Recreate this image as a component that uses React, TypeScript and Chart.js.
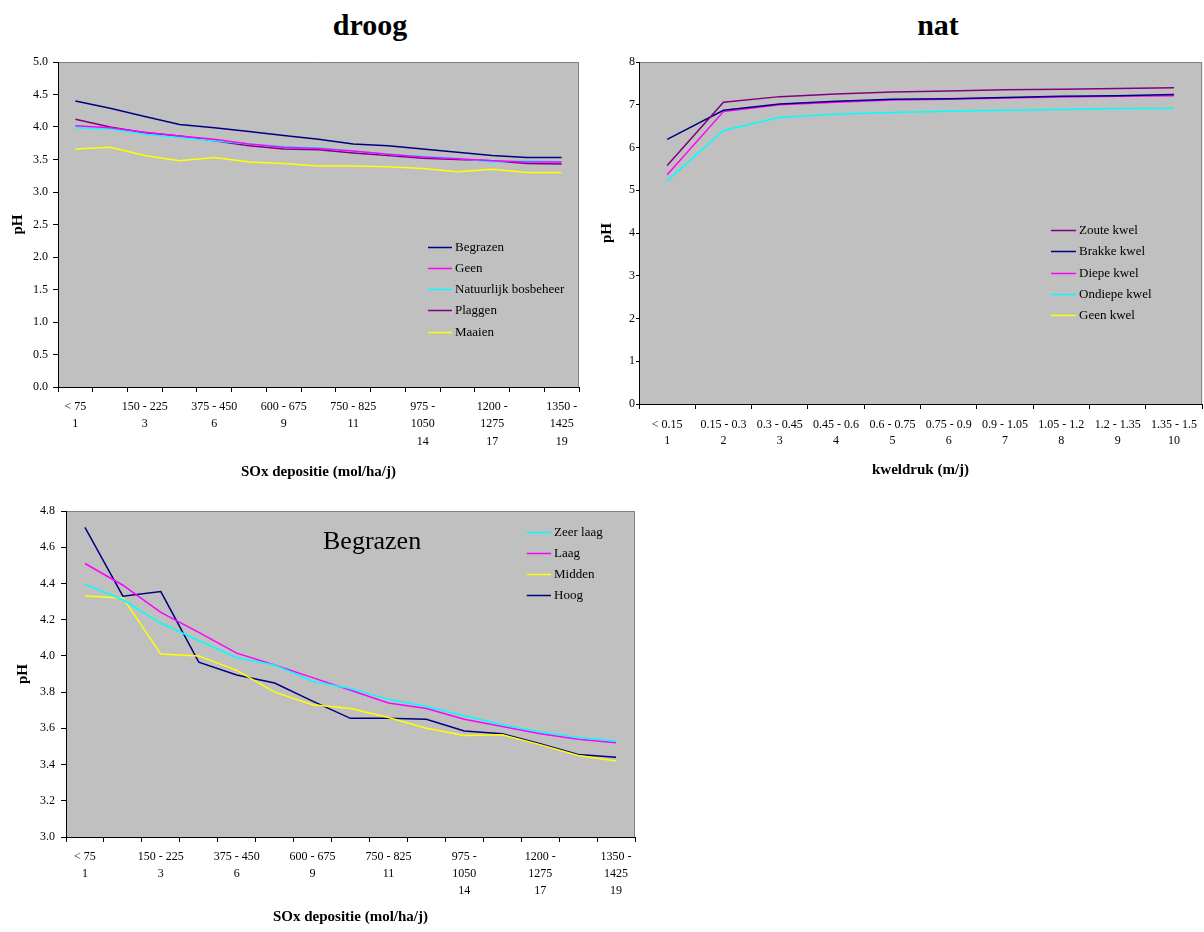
import React, { useEffect, useRef } from 'react';
import { Chart, registerables } from 'chart.js';

Chart.register(...registerables);

const FONT = "'Liberation Serif', 'Times New Roman', serif";

// ---------- categories ----------
const soxRanges = ['< 75', '75 - 150', '150 - 225', '300 - 375', '375 - 450', '450 - 525', '600 - 675', '675 - 750', '750 - 825', '900 - 975', '975 - 1050', '1050 - 1125', '1200 - 1275', '1275 - 1350', '1350 - 1425'];
const soxClasses = [1, 2, 3, 5, 6, 7, 9, 10, 11, 13, 14, 15, 17, 18, 19];
const kwelRanges = ['< 0.15', '0.15 - 0.3', '0.3 - 0.45', '0.45 - 0.6', '0.6 - 0.75', '0.75 - 0.9', '0.9 - 1.05', '1.05 - 1.2', '1.2 - 1.35', '1.35 - 1.5'];
const kwelClasses = [1, 2, 3, 4, 5, 6, 7, 8, 9, 10];

// ---------- droog ----------
const droogNames = ['Begrazen', 'Geen', 'Natuurlijk bosbeheer', 'Plaggen', 'Maaien'];
const droogBegrazen = [4.40, 4.29, 4.16, 4.04, 3.99, 3.93, 3.87, 3.81, 3.74, 3.71, 3.66, 3.61, 3.56, 3.53, 3.53];
const droogGeen = [4.02, 3.99, 3.92, 3.86, 3.81, 3.74, 3.69, 3.67, 3.63, 3.58, 3.54, 3.51, 3.48, 3.46, 3.46];
const droogNatuurlijk = [3.99, 3.97, 3.89, 3.84, 3.79, 3.74, 3.70, 3.68, 3.63, 3.58, 3.55, 3.52, 3.46, 3.48, 3.46];
const droogPlaggen = [4.12, 4.00, 3.91, 3.86, 3.79, 3.71, 3.66, 3.65, 3.60, 3.56, 3.52, 3.50, 3.48, 3.44, 3.43];
const droogMaaien = [3.66, 3.69, 3.56, 3.48, 3.53, 3.46, 3.44, 3.40, 3.40, 3.39, 3.36, 3.31, 3.35, 3.30, 3.30];
const droogColors = ['#000080', '#FF00FF', '#00FFFF', '#800080', '#FFFF00'];

// ---------- nat ----------
const natNames = ['Zoute kwel', 'Brakke kwel', 'Diepe kwel', 'Ondiepe kwel', 'Geen kwel'];
const natZoute = [5.58, 7.06, 7.19, 7.25, 7.30, 7.32, 7.35, 7.36, 7.38, 7.40];
const natBrakke = [6.19, 6.87, 7.02, 7.08, 7.13, 7.14, 7.17, 7.20, 7.21, 7.24];
const natDiepe = [5.36, 6.84, 7.00, 7.06, 7.11, 7.13, 7.16, 7.18, 7.20, 7.21];
const natOndiepe = [5.22, 6.40, 6.71, 6.78, 6.82, 6.85, 6.87, 6.89, 6.91, 6.92];
const natGeen = [null, null, null, null, null, null, null, null, null, null];
const natColors = ['#800080', '#000080', '#FF00FF', '#00FFFF', '#FFFF00'];

// ---------- Begrazen ----------
const begrazenNames = ['Zeer laag', 'Laag', 'Midden', 'Hoog'];
const begrazenZeerLaag = [4.395, 4.31, 4.18, 4.085, 3.99, 3.95, 3.86, 3.82, 3.76, 3.72, 3.67, 3.62, 3.58, 3.55, 3.53];
const begrazenLaag = [4.51, 4.39, 4.24, 4.13, 4.015, 3.95, 3.88, 3.81, 3.74, 3.71, 3.65, 3.61, 3.57, 3.54, 3.52];
const begrazenMidden = [4.33, 4.32, 4.01, 4.00, 3.92, 3.80, 3.73, 3.71, 3.66, 3.60, 3.56, 3.565, 3.51, 3.45, 3.42];
const begrazenHoog = [4.71, 4.33, 4.355, 3.965, 3.895, 3.85, 3.75, 3.655, 3.655, 3.65, 3.585, 3.57, 3.515, 3.455, 3.44];
const begrazenColors = ['#00FFFF', '#FF00FF', '#FFFF00', '#000080'];

// ---------- axis ranges / titles ----------
const droogY = { min: 0, max: 5, step: 0.5, decimals: 1 };
const natY = { min: 0, max: 8, step: 1, decimals: 0 };
const begrazenY = { min: 3.0, max: 4.8, step: 0.2, decimals: 1 };
const soxTitle = 'SOx depositie (mol/ha/j)';
const kwelTitle = 'kweldruk (m/j)';
const yTitle = 'pH';

function soxLabel(i: number) {
  if (i % 2 !== 0) return '';
  const r = soxRanges[i];
  const n = String(soxClasses[i]);
  if (r.length >= 10) {
    const parts = r.split(' - ');
    return [parts[0] + ' -', parts[1], n];
  }
  return [r, n];
}
function kwelLabel(i: number) {
  return [kwelRanges[i], String(kwelClasses[i])];
}

// ---------- plugins ----------
const plotFramePlugin = {
  id: 'plotFrame',
  beforeDraw(chart: any) {
    const { ctx, chartArea: a } = chart;
    ctx.save();
    ctx.fillStyle = '#C0C0C0';
    ctx.fillRect(a.left, a.top, a.right - a.left, a.bottom - a.top);
    ctx.strokeStyle = '#808080';
    ctx.lineWidth = 1;
    ctx.beginPath();
    ctx.moveTo(a.left, a.top + 0.5);
    ctx.lineTo(a.right - 0.5, a.top + 0.5);
    ctx.lineTo(a.right - 0.5, a.bottom);
    ctx.stroke();
    ctx.restore();
  },
};

const innerLegendPlugin = {
  id: 'innerLegend',
  afterDatasetsDraw(chart: any, _args: any, opts: any) {
    const { ctx, chartArea: a } = chart;
    ctx.save();
    ctx.font = `13px ${FONT}`;
    ctx.textBaseline = 'middle';
    ctx.textAlign = 'left';
    chart.data.datasets.forEach((d: any, i: number) => {
      const y = Math.round(a.top + opts.y + i * opts.rowH) + 0.5;
      const x0 = a.left + opts.x;
      ctx.strokeStyle = d.borderColor;
      ctx.lineWidth = 1.5;
      ctx.beginPath();
      ctx.moveTo(x0, y);
      ctx.lineTo(x0 + opts.lineLen, y);
      ctx.stroke();
      ctx.fillStyle = '#000';
      ctx.fillText(d.label, x0 + opts.lineLen + 3, y);
    });
    ctx.restore();
  },
};

const innerTextPlugin = {
  id: 'innerText',
  afterDatasetsDraw(chart: any, _args: any, opts: any) {
    if (!opts || !opts.text) return;
    const { ctx, chartArea: a } = chart;
    ctx.save();
    ctx.font = `${opts.size}px ${FONT}`;
    ctx.fillStyle = '#000';
    ctx.textBaseline = 'middle';
    ctx.textAlign = 'left';
    ctx.fillText(opts.text, a.left + opts.x, a.top + opts.y);
    ctx.restore();
  },
};

function ds(label: string, data: any[], color: string) {
  return {
    label,
    data,
    borderColor: color,
    backgroundColor: color,
    borderWidth: 1.5,
    pointRadius: 0,
    pointHoverRadius: 0,
    tension: 0,
    fill: false,
  };
}

function buildConfig(p: any) {
  return {
    type: 'line',
    data: { labels: p.labels, datasets: p.datasets },
    plugins: [plotFramePlugin, innerLegendPlugin, innerTextPlugin],
    options: {
      responsive: false,
      maintainAspectRatio: false,
      devicePixelRatio: 1,
      animation: false,
      events: [],
      layout: { padding: p.padding },
      plugins: {
        legend: { display: false },
        tooltip: { enabled: false },
        title: { display: false },
        innerLegend: p.legend,
        innerText: p.innerText || {},
      },
      scales: {
        x: {
          type: 'category',
          offset: true,
          grid: { display: true, drawOnChartArea: false, drawTicks: true, tickLength: 5, offset: true, color: '#000' },
          border: { display: true, color: '#000', width: 1 },
          ticks: {
            autoSkip: false,
            maxRotation: 0,
            minRotation: 0,
            padding: p.xTickPad,
            color: '#000',
            font: { family: FONT, size: 12, lineHeight: p.xLineH },
            callback: (_v: any, i: number) => p.xLabel(i),
          },
          title: {
            display: true,
            text: p.xTitle,
            color: '#000',
            font: { family: FONT, size: 15, weight: 'bold', lineHeight: 1.2 },
            padding: { top: 0, bottom: p.xTitlePad },
          },
          afterFit: (s: any) => { s.height = p.xHeight; },
        },
        y: {
          type: 'linear',
          min: p.y.min,
          max: p.y.max,
          grid: { display: true, drawOnChartArea: false, drawTicks: true, tickLength: p.yTickLen, color: '#000' },
          border: { display: true, color: '#000', width: 1 },
          ticks: {
            stepSize: p.y.step,
            padding: p.yTickPad,
            color: '#000',
            font: { family: FONT, size: 12 },
            callback: (v: any) => Number(v).toFixed(p.y.decimals),
          },
          title: {
            display: true,
            text: yTitle,
            color: '#000',
            font: { family: FONT, size: 15, weight: 'bold', lineHeight: 1.2 },
            padding: { top: p.yTitlePad, bottom: 0 },
          },
          afterFit: (s: any) => { s.width = p.yWidth; },
        },
      },
    },
  };
}

function ChartCanvas({ left, top, width, height, build }: any) {
  const ref = useRef<HTMLCanvasElement>(null);
  useEffect(() => {
    const chart = new Chart(ref.current as HTMLCanvasElement, build() as any);
    return () => chart.destroy();
  }, []);
  return (
    <canvas
      ref={ref}
      width={width}
      height={height}
      style={{ position: 'absolute', left, top, width, height, display: 'block' }}
    />
  );
}

const droogConfig = () =>
  buildConfig({
    labels: soxRanges,
    datasets: [
      ds(droogNames[0], droogBegrazen, droogColors[0]),
      ds(droogNames[1], droogGeen, droogColors[1]),
      ds(droogNames[2], droogNatuurlijk, droogColors[2]),
      ds(droogNames[3], droogPlaggen, droogColors[3]),
      ds(droogNames[4], droogMaaien, droogColors[4]),
    ],
    padding: { top: 62, right: 21, bottom: 0, left: 0 },
    legend: { x: 370, y: 184.7, rowH: 21.25, lineLen: 24 },
    xLabel: soxLabel,
    xTitle: soxTitle,
    xTickPad: 6,
    xLineH: 1.45,
    xTitlePad: 9,
    xHeight: 103,
    y: droogY,
    yTickLen: 5,
    yTickPad: 5,
    yTitlePad: 9,
    yWidth: 58,
  });

const natConfig = () =>
  buildConfig({
    labels: kwelRanges,
    datasets: [
      ds(natNames[0], natZoute, natColors[0]),
      ds(natNames[1], natBrakke, natColors[1]),
      ds(natNames[2], natDiepe, natColors[2]),
      ds(natNames[3], natOndiepe, natColors[3]),
      ds(natNames[4], natGeen, natColors[4]),
    ],
    padding: { top: 62, right: 1, bottom: 0, left: 0 },
    legend: { x: 412, y: 168, rowH: 21.25, lineLen: 25 },
    xLabel: kwelLabel,
    xTitle: kwelTitle,
    xTickPad: 7,
    xLineH: 1.4,
    xTitlePad: 11,
    xHeight: 86,
    y: natY,
    yTickLen: 3,
    yTickPad: 1,
    yTitlePad: -2,
    yWidth: 39,
  });

const begrazenConfig = () =>
  buildConfig({
    labels: soxRanges,
    datasets: [
      ds(begrazenNames[0], begrazenZeerLaag, begrazenColors[0]),
      ds(begrazenNames[1], begrazenLaag, begrazenColors[1]),
      ds(begrazenNames[2], begrazenMidden, begrazenColors[2]),
      ds(begrazenNames[3], begrazenHoog, begrazenColors[3]),
    ],
    padding: { top: 21, right: 25, bottom: 0, left: 0 },
    legend: { x: 460.7, y: 20.7, rowH: 21.1, lineLen: 24.3 },
    innerText: { text: 'Begrazen', x: 257, y: 31, size: 26 },
    xLabel: soxLabel,
    xTitle: soxTitle,
    xTickPad: 6,
    xLineH: 1.42,
    xTitlePad: 6,
    xHeight: 95,
    y: begrazenY,
    yTickLen: 5,
    yTickPad: 6,
    yTitlePad: 14,
    yWidth: 66,
  });

const titleStyle = (cx: number): React.CSSProperties => ({
  position: 'absolute',
  left: cx - 100,
  top: 9,
  width: 200,
  textAlign: 'center',
  fontFamily: FONT,
  fontWeight: 'bold',
  fontSize: 30,
  lineHeight: '32px',
  color: '#000',
});

export default function App() {
  return (
    <div style={{ position: 'absolute', left: 0, top: 0, width: 1204, height: 932, background: '#fff', overflow: 'hidden' }}>
      <div style={titleStyle(370)}>droog</div>
      <div style={titleStyle(938)}>nat</div>
      <ChartCanvas left={0} top={0} width={600} height={490} build={droogConfig} />
      <ChartCanvas left={600} top={0} width={604} height={490} build={natConfig} />
      <ChartCanvas left={0} top={490} width={660} height={442} build={begrazenConfig} />
    </div>
  );
}
